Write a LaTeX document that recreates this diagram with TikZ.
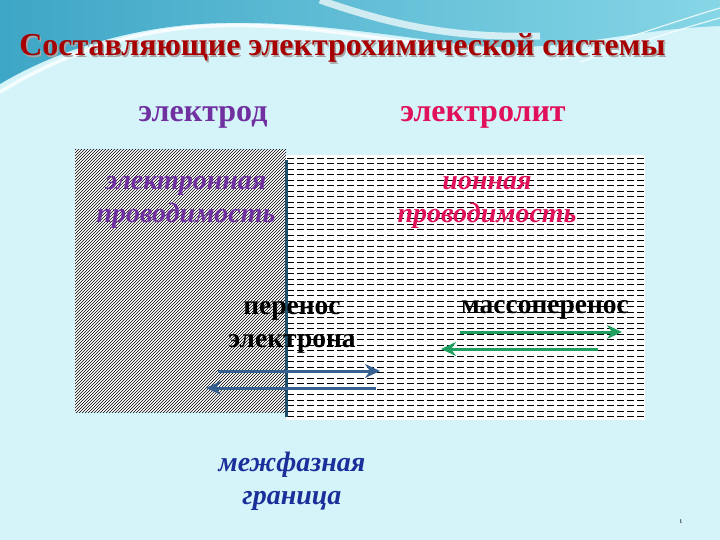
\documentclass[tikz,border=0pt]{standalone}
\usepackage{fontspec}
\setmainfont{Liberation Serif}
\usetikzlibrary{patterns,arrows.meta}

\definecolor{slidebg}{HTML}{D4F4FA}
\definecolor{wavedark}{HTML}{3EA6C6}
\definecolor{wavelight}{HTML}{86D6E6}
\definecolor{titlered}{HTML}{A80000}
\definecolor{electrodeviolet}{HTML}{7030A0}
\definecolor{lytecrimson}{HTML}{E0105A}
\definecolor{borderblue}{HTML}{1A2F9A}
\definecolor{arrowblue}{HTML}{35608F}
\definecolor{arrowgreen}{HTML}{1FA060}
\definecolor{phaseline}{HTML}{1F4E6A}

\tikzset{
  heading/.style={font=\fontsize{32}{36}\selectfont\bfseries},
  italiclabel/.style={font=\fontsize{28}{33}\selectfont\bfseries\itshape, align=center},
  plainlabel/.style={font=\fontsize{27.5}{33}\selectfont\bfseries, align=center, text=black},
  flow/.style={line width=3pt, -{Stealth[length=15pt,width=14pt,inset=5pt]}}
}

\begin{document}
\begin{tikzpicture}[x=1pt,y=-1pt]
        % background and top wave
        \fill[slidebg] (0,0) rectangle (720,540);
        \useasboundingbox (0,0) rectangle (720,540);
        \shade[left color=wavedark, right color=wavelight]
          (0,0) -- (720,0) -- (720,26) .. controls (620,30) and (570,52) .. (480,46)
          .. controls (400,38) and (300,18) .. (200,24) .. controls (110,30) and (40,60) .. (0,84) -- cycle;
        \draw[white, line width=3.5pt, opacity=0.8] (0,92) .. controls (60,55) and (130,30) .. (210,26)
          .. controls (300,22) and (380,40) .. (470,50);
        \draw[white, line width=7pt, opacity=0.7] (320,0) .. controls (400,28) and (460,38) .. (540,36);
        \draw[white, line width=1.2pt, opacity=0.8] (560,60) .. controls (620,40) and (680,20) .. (720,8);
        \draw[white, line width=1.2pt, opacity=0.8] (580,62) .. controls (640,42) and (690,26) .. (720,18);

        % title
        \node[heading, font=\fontsize{31.9}{36}\selectfont\bfseries, text=gray!70] at (344,49.5) {Составляющие электрохимической системы};
        \node[heading, font=\fontsize{31.9}{36}\selectfont\bfseries, text=titlered] (title) at (342.5,48) {Составляющие электрохимической системы};

        \node[heading, text=electrodeviolet] (electrode) at (203,117) {электрод};
        \node[heading, text=lytecrimson] (electrolyte) at (483,117) {электролит};

        % the two phases
        \fill[white] (75,150) rectangle (286,412);
        \fill[pattern=north east lines] (75,150) rectangle (286,412);
        \fill[white] (286,155) rectangle (645,420);
        \begin{scope}
          \clip (286,155) rectangle (645,420);
          \foreach \y in {158,163.5,...,420}
            \draw[line width=0.7pt, dash pattern=on 6.5pt off 3.5pt] (287,\y) -- (645,\y);
        \end{scope}
        \coordinate (phasetop) at (286,160);
        \coordinate (phasebottom) at (286,417);
        \draw[phaseline, line width=3pt] (phasetop) -- (phasebottom);

        % labels
        \node[italiclabel, text=electrodeviolet] (econd) at (186,202) {электронная\\проводимость};
        \node[italiclabel, text=lytecrimson] (icond) at (487,202) {ионная\\проводимость};
        \node[plainlabel] (etransfer) at (292,327) {перенос\\электрона};
        \node[plainlabel] (masstransfer) at (545,310) {массоперенос};
        \node[italiclabel, text=borderblue] (interface) at (292,481) {межфазная\\граница};
        \node[font=\fontsize{8}{9}\selectfont] (pageno) at (681,522) {ι};

        % electron transfer arrows
        \coordinate (ea) at (218,371);
        \coordinate (eb) at (380,371);
        \coordinate (ec) at (376,388);
        \coordinate (ed) at (206,388);
        \draw[flow, arrowblue] (ea) -- (eb);
        \draw[flow, arrowblue] (ec) -- (ed);

        % mass transfer arrows
        \coordinate (ma) at (460,332);
        \coordinate (mb) at (622,332);
        \coordinate (mc) at (598,349);
        \coordinate (md) at (441,349);
        \draw[flow, arrowgreen] (ma) -- (mb);
        \draw[flow, arrowgreen] (mc) -- (md);
\end{tikzpicture}
\end{document}
